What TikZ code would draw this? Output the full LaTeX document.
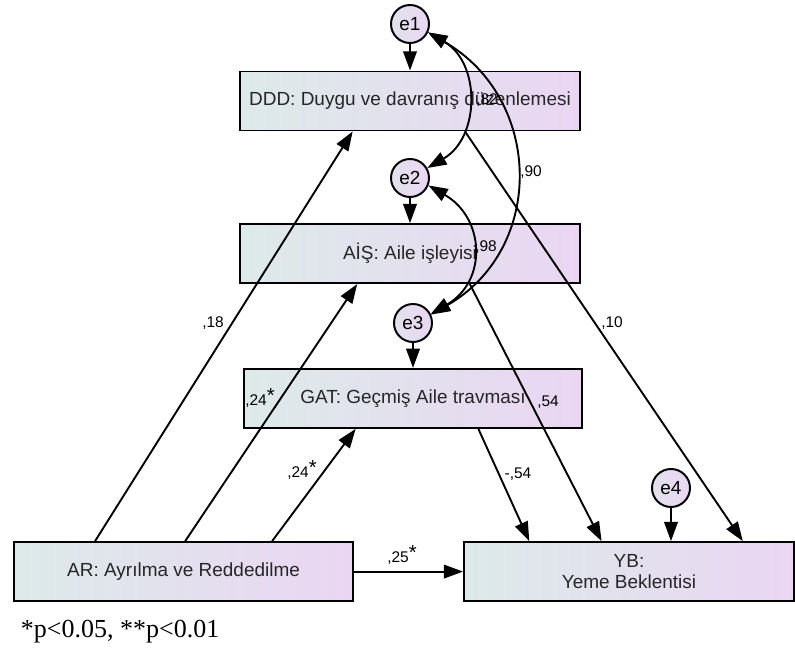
\documentclass[tikz,border=0pt]{standalone}
\usepackage{fontspec}
\setmainfont{Liberation Sans}
\newfontfamily\notefont{Liberation Serif}
\usepackage{xcolor}
\usepackage{tikz}
\usetikzlibrary{arrows.meta, positioning, calc}

\definecolor{boxleft}{RGB}{221,234,233}
\definecolor{boxright}{RGB}{234,214,243}
\newcommand{\sig}{\raisebox{0.3ex}{\Large *}}

\begin{document}
\begin{tikzpicture}[
    every node/.style={font=\fontsize{13.5}{15}\selectfont},
    var/.style={rectangle, draw, line width=1.4pt, left color=boxleft, right color=boxright, minimum width=8.5cm, minimum height=1.475cm, align=center, text=black!85},
    err/.style={circle, draw, line width=1.4pt, left color=boxleft!60!boxright, right color=boxright, minimum size=0.95cm, inner sep=0pt},
    coef/.style={font=\fontsize{11}{13}\selectfont},
    arr/.style={-{Triangle[length=4.8mm, width=3.4mm]}, line width=1.35pt},
    cov/.style={{Triangle[length=4.8mm, width=3.4mm]}-{Triangle[length=4.8mm, width=3.4mm]}, line width=1.35pt}
]
\useasboundingbox (0,0) rectangle (19.875,16.25);

% Observed variables
\node[var] (ddd) at (10.25,13.725) {DDD: Duygu ve davranış düzenlemesi};
\node[var] (ais) at (10.25,9.91) {AİŞ: Aile işleyisi};
\node[var, minimum width=8.45cm] (gat) at (10.325,6.29) {GAT: Geçmiş Aile travması};
\node[var, minimum width=8.475cm] (ar) at (4.59,1.96) {AR: Ayrılma ve Reddedilme};
\node[var, minimum width=8.25cm] (yb) at (15.725,1.96) {YB:\\Yeme Beklentisi};

% Error terms
\node[err] (e1) at (10.25,15.65) {e1};
\node[err] (e2) at (10.25,11.8) {e2};
\node[err] (e3) at (10.325,8.175) {e3};
\node[err] (e4) at (16.775,4.05) {e4};

\draw[arr] (e1) -- (ddd);
\draw[arr] (e2) -- (ais);
\draw[arr] (e3) -- (gat);
\draw[arr] (e4) -- (e4 |- yb.north);

% Paths
\draw[arr] (ar.161) -- (ddd.208);
\draw[arr] (ar.87) -- (ais.210);
\draw[arr] (ar.19) -- (gat.208);
\draw[arr] (ar) -- (yb);
\draw[arr] (ddd.331) -- (yb.15);
\draw[arr] (ais.333) -- (yb.132);
\draw[arr] (gat.335) -- (yb.163);

% Covariances
\draw[cov] (e1.-25) to[out=-30, in=30, looseness=1.15] (e2.30);
\draw[cov] (e1.-25) to[out=-30, in=30, looseness=1.2] (e3.25);
\draw[cov] (e2.-22) to[out=-30, in=30, looseness=1.3] (e3.27);

% Coefficients
\node[coef] (c82) at (12.175,13.75) {,82};
\node[coef] (c90) at (13.275,11.95) {,90};
\node[coef] (c98) at (12.15,10.075) {,98};
\node[coef] (c18) at (5.325,8.175) {,18};
\node[coef] (c24a) at (6.5,6.3) {,24\sig};
\node[coef] (c24b) at (7.55,4.5) {,24\sig};
\node[coef] (c25) at (10.05,2.375) {,25\sig};
\node[coef] (c54) at (13.7,6.2) {,54};
\node[coef] (cm54) at (12.95,4.4) {-,54};
\node[coef] (c10) at (15.3,8.175) {,10};

\node[anchor=west, font=\notefont\fontsize{18.5}{20}\selectfont] (note) at (0.4,0.45) {*p<0.05, **p<0.01};

\end{tikzpicture}
\end{document}
